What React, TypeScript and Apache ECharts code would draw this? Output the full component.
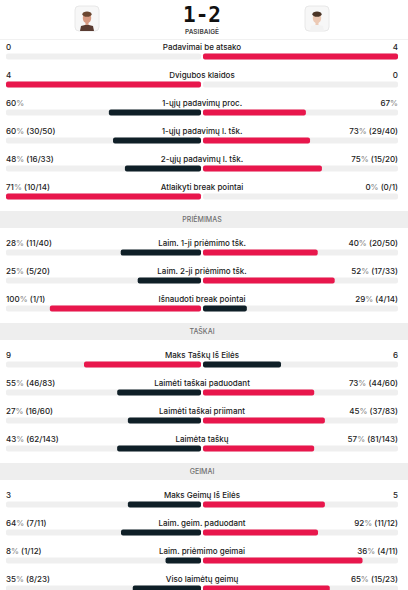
import React, { useEffect, useRef } from "react";
import * as echarts from "echarts";

// ---------- data ----------
const statNames = [
  "Padavimai be atsako",
  "Dvigubos klaidos",
  "1-ųjų padavimų proc.",
  "1-ųjų padavimų l. tšk.",
  "2-ųjų padavimų l. tšk.",
  "Atlaikyti break pointai",
  "Laim. 1-ji priėmimo tšk.",
  "Laim. 2-ji priėmimo tšk.",
  "Išnaudoti break pointai",
  "Maks Taškų Iš Eilės",
  "Laimėti taškai paduodant",
  "Laimėti taškai priimant",
  "Laimėta taškų",
  "Maks Geimų Iš Eilės",
  "Laim. geim. paduodant",
  "Laim. priėmimo geimai",
  "Viso laimėtų geimų",
];
const leftLabels = [
  "0", "4", "60%", "60% (30/50)", "48% (16/33)", "71% (10/14)",
  "28% (11/40)", "25% (5/20)", "100% (1/1)",
  "9", "55% (46/83)", "27% (16/60)", "43% (62/143)",
  "3", "64% (7/11)", "8% (1/12)", "35% (8/23)",
];
const rightLabels = [
  "4", "0", "67%", "73% (29/40)", "75% (15/20)", "0% (0/1)",
  "40% (20/50)", "52% (17/33)", "29% (4/14)",
  "6", "73% (44/60)", "45% (37/83)", "57% (81/143)",
  "5", "92% (11/12)", "36% (4/11)", "65% (15/23)",
];
const leftValues = [0, 4, 60, 60, 48, 71, 28, 25, 100, 9, 55, 27, 43, 3, 64, 8, 35];
const rightValues = [4, 0, 67, 73, 75, 0, 40, 52, 29, 6, 73, 45, 57, 5, 92, 36, 65];
const sectionTitles = ["PRIĖMIMAS", "TAŠKAI", "GEIMAI"];
const sectionStarts = [6, 9, 13];
const scoreLeft = 1;
const scoreRight = 2;
const matchStatus = "PASIBAIGĖ";

// ---------- style ----------
const RED = "#e8174c";
const DARK = "#0f1f27";
const TRACK = "#efefef";
const FONT = "Inter, 'Noto Sans', sans-serif";

type Slot = { kind: "stat"; i: number } | { kind: "header"; title: string };

const slots: Slot[] = [];
statNames.forEach((_, i) => {
  const s = sectionStarts.indexOf(i);
  if (s >= 0) slots.push({ kind: "header", title: sectionTitles[s] });
  slots.push({ kind: "stat", i });
});
const slotIds = slots.map((_, k) => "s" + k);

function share(a: number, b: number) {
  return a + b === 0 ? 0 : a / (a + b);
}

function pctRich(t: string) {
  return t.replace(/%/g, "{p|%}");
}

function buildOption(): any {
  const bgData = slots.map((s) => (s.kind === "stat" ? 1 : "-"));
  const leftData = slots.map((s) => {
    if (s.kind !== "stat") return "-";
    const a = leftValues[s.i], b = rightValues[s.i];
    return { value: share(a, b), itemStyle: { color: a > b ? RED : DARK } };
  });
  const rightData = slots.map((s) => {
    if (s.kind !== "stat") return "-";
    const a = leftValues[s.i], b = rightValues[s.i];
    return { value: share(b, a), itemStyle: { color: b > a ? RED : DARK } };
  });
  const common = { type: "bar", barWidth: 6, silent: true, barGap: "-100%" };
  return {
    animation: false,
    grid: [
      { left: 6, width: 195, top: 42.5, height: 28 * slots.length },
      { left: 203, width: 195, top: 42.5, height: 28 * slots.length },
    ],
    xAxis: [
      { gridIndex: 0, type: "value", min: 0, max: 1, inverse: true, show: false },
      { gridIndex: 1, type: "value", min: 0, max: 1, show: false },
    ],
    yAxis: [
      { gridIndex: 0, type: "category", data: slotIds, inverse: true, show: false },
      { gridIndex: 1, type: "category", data: slotIds, inverse: true, show: false },
    ],
    series: [
      { ...common, xAxisIndex: 0, yAxisIndex: 0, data: bgData, itemStyle: { color: TRACK, borderRadius: 2 }, z: 1 },
      { ...common, xAxisIndex: 0, yAxisIndex: 0, data: leftData, itemStyle: { borderRadius: 2 }, z: 2 },
      { ...common, xAxisIndex: 1, yAxisIndex: 1, data: bgData, itemStyle: { color: TRACK, borderRadius: 2 }, z: 1 },
      { ...common, xAxisIndex: 1, yAxisIndex: 1, data: rightData, itemStyle: { borderRadius: 2 }, z: 2 },
    ],
  };
}

function avatar(x: number, y: number, skin: string, hair: string, shirt: string): any {
  const cx = x + 12;
  return {
    type: "group",
    children: [
      { type: "rect", shape: { x, y, width: 24, height: 25, r: 4 }, style: { fill: "#f7f7f7", stroke: "#e8e8e8", lineWidth: 1 } },
      { type: "polygon", shape: { points: [[cx - 7, y + 25], [cx - 6, y + 20], [cx, y + 18.5], [cx + 6, y + 20], [cx + 7, y + 25]] }, style: { fill: shirt } },
      { type: "rect", shape: { x: cx - 1.5, y: y + 15, width: 3, height: 4 }, style: { fill: skin } },
      { type: "ellipse", shape: { cx, cy: y + 12, rx: 4.2, ry: 5.2 }, style: { fill: skin } },
      { type: "ellipse", shape: { cx, cy: y + 8.2, rx: 4.6, ry: 2.6 }, style: { fill: hair } },
    ],
  };
}

function buildGraphics(chart: any): any[] {
  const g: any[] = [];
  // header
  g.push(avatar(75, 6, "#d79a82", "#6a4630", "#5a3c32"));
  g.push(avatar(305, 6, "#ecc9b4", "#4a3526", "#f2f2f2"));
  g.push({
    type: "text", x: 202, y: 15,
    style: { text: `${scoreLeft}-${scoreRight}`, fill: "#111", fontSize: 21, fontFamily: "'DejaVu Sans Mono', monospace", fontWeight: "bold", align: "center", verticalAlign: "middle" },
  });
  g.push({
    type: "text", x: 202, y: 31.5,
    style: { text: matchStatus, fill: "#444", fontSize: 6.5, fontFamily: FONT, fontWeight: 600, align: "center", verticalAlign: "middle" },
  });
  g.push({ type: "line", shape: { x1: 0, y1: 39.5, x2: 408, y2: 39.5 }, style: { stroke: "#f1f1f1", lineWidth: 1 } });

  const leftEdge = chart.convertToPixel({ xAxisIndex: 0, yAxisIndex: 0 }, [1, 0])[0];
  const leftMid = chart.convertToPixel({ xAxisIndex: 0, yAxisIndex: 0 }, [0, 0])[0];
  const rightMid = chart.convertToPixel({ xAxisIndex: 1, yAxisIndex: 1 }, [0, 0])[0];
  const rightEdge = chart.convertToPixel({ xAxisIndex: 1, yAxisIndex: 1 }, [1, 0])[0];
  const mid = (leftMid + rightMid) / 2;

  slots.forEach((s, k) => {
    const y = chart.convertToPixel({ xAxisIndex: 0, yAxisIndex: 0 }, [0, k])[1];
    if (s.kind === "header") {
      const cy = y - 5;
      g.push({ type: "rect", shape: { x: 0, y: cy - 8.5, width: 408, height: 17 }, style: { fill: "#eeeeee" } });
      g.push({
        type: "text", x: mid, y: cy,
        style: { text: s.title, fill: "#6f6f6f", fontSize: 7, fontFamily: FONT, fontWeight: 500, align: "center", verticalAlign: "middle" },
      });
    } else {
      const ty = y - 9.5;
      const base = { fontSize: 8, fontFamily: FONT, fontWeight: 500, fill: "#222", verticalAlign: "middle", rich: { p: { fill: "#8a8a8a", fontSize: 8, fontFamily: FONT, fontWeight: 500 } } };
      g.push({ type: "text", x: leftEdge, y: ty, style: { ...base, text: pctRich(leftLabels[s.i]), align: "left" } });
      g.push({ type: "text", x: rightEdge, y: ty, style: { ...base, text: pctRich(rightLabels[s.i]), align: "right" } });
      g.push({ type: "text", x: mid, y: ty, style: { ...base, text: statNames[s.i], align: "center", fill: "#1a1a1a" } });
    }
  });
  return g;
}

export default function App() {
  const ref = useRef<HTMLDivElement>(null);
  useEffect(() => {
    if (!ref.current) return;
    const chart = echarts.init(ref.current, null, { renderer: "svg" });
    chart.setOption(buildOption());
    chart.setOption({ graphic: buildGraphics(chart) });
    return () => chart.dispose();
  }, []);
  return (
    <div
      ref={ref}
      style={{ position: "fixed", left: 0, top: 0, width: 408, height: 620, background: "#fff" }}
    />
  );
}
